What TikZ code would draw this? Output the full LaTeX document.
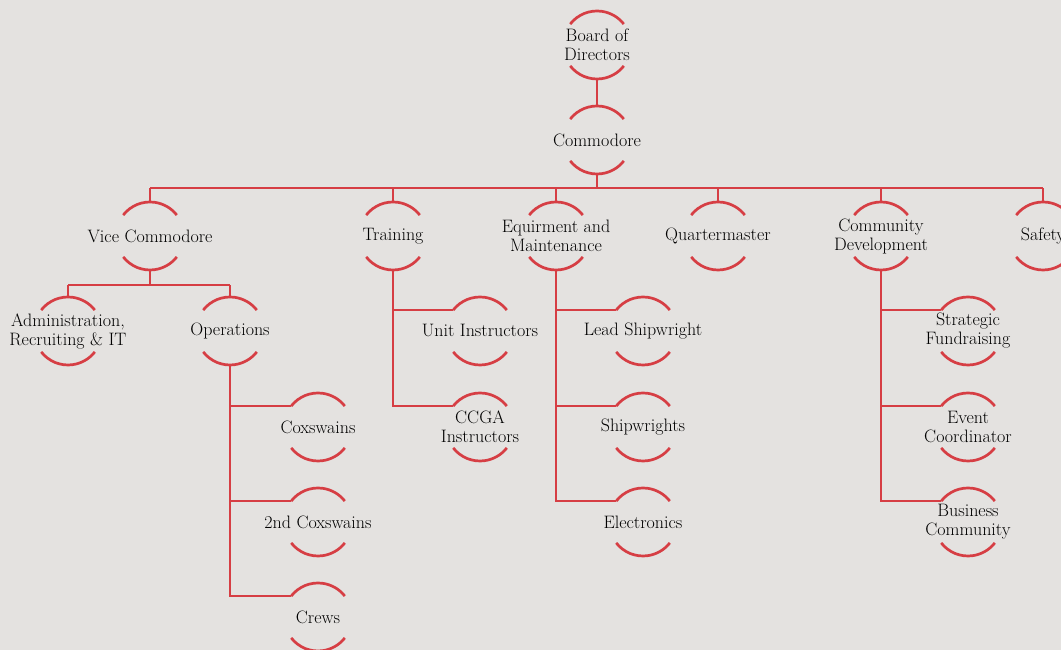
\documentclass[tikz,border=0pt]{standalone}
\usepackage{tikz}

\definecolor{bgpaper}{RGB}{228,226,224}
\definecolor{orgred}{RGB}{214,62,68}

\tikzset{
  orgtext/.style={align=center,text=black,inner sep=0pt,
    font=\fontsize{18}{19}\selectfont},
  orgunit/.style={circle,minimum size=68pt,inner sep=0pt,outer sep=0pt,
    label={[orgtext]center:#1}},
  orgarc/.style={orgred,line width=2.7pt},
  link/.style={orgred,line width=2.6pt}
}

\begin{document}
\begin{tikzpicture}[x=1pt,y=1pt]
  \fill[bgpaper] (0,0) rectangle (1061,650);
  \clip (0,0) rectangle (1061,650);

  % top of the tree
  \node[orgunit={Board of\\Directors}] (bod) at (597,605) {};
  \node[orgunit={Commodore}] (com) at (597,510) {};

  % second level
  \node[orgunit={Vice Commodore}] (vc) at (150,414) {};
  \node[orgunit={Training}] (trn) at (393,414) {};
  \node[orgunit={Equirment and\\Maintenance}] (eqp) at (556,414) {};
  \node[orgunit={Quartermaster}] (qm) at (718,414) {};
  \node[orgunit={Community\\Development}] (cdev) at (881,414) {};
  \node[orgunit={Safety}] (saf) at (1043,414) {};

  % under the vice commodore
  \node[orgunit={Administration,\\Recruiting \& IT}] (adm) at (68,319) {};
  \node[orgunit={Operations}] (ops) at (230,319) {};
  \node[orgunit={Coxswains}] (cox) at (318,223) {};
  \node[orgunit={2nd Coxswains}] (cox2) at (318,128) {};
  \node[orgunit={Crews}] (crw) at (318,33) {};

  % training, maintenance, development
  \node[orgunit={Unit Instructors}] (ui) at (480,319) {};
  \node[orgunit={CCGA\\Instructors}] (ccga) at (480,223) {};
  \node[orgunit={Lead Shipwright}] (lead) at (643,319) {};
  \node[orgunit={Shipwrights}] (shw) at (643,223) {};
  \node[orgunit={Electronics}] (elec) at (643,128) {};
  \node[orgunit={Strategic\\Fundraising}] (strat) at (968,319) {};
  \node[orgunit={Event\\Coordinator}] (evt) at (968,223) {};
  \node[orgunit={Business\\Community}] (bus) at (968,128) {};

  \foreach \n in {bod,com,vc,trn,eqp,qm,cdev,saf,adm,ops,cox,cox2,crw,
                  ui,ccga,lead,shw,elec,strat,evt,bus}{
    \draw[orgarc] (\n.142) arc[start angle=142,end angle=38,radius=34pt];
    \draw[orgarc] (\n.218) arc[start angle=218,end angle=322,radius=34pt];
  }

  \coordinate (bar) at (0,462);
  \coordinate (vcbar) at (0,365);

  \draw[link] (bod.south) -- (com.north);
  \draw[link] (com.south) -- (com.south |- bar);
  \draw[link] (vc.north |- bar) -- (saf.north |- bar);
  \foreach \n in {vc,trn,eqp,qm,cdev,saf}
    \draw[link] (\n.north) -- (\n.north |- bar);

  \draw[link] (vc.south) -- (vc.south |- vcbar);
  \draw[link] (adm.north |- vcbar) -- (ops.north |- vcbar);
  \foreach \n in {adm,ops}
    \draw[link] (\n.north) -- (\n.north |- vcbar);

  \foreach \c in {cox,cox2,crw}
    \draw[link] (ops.south) |- (\c.142);
  \foreach \c in {ui,ccga}
    \draw[link] (trn.south) |- (\c.142);
  \foreach \c in {lead,shw,elec}
    \draw[link] (eqp.south) |- (\c.142);
  \foreach \c in {strat,evt,bus}
    \draw[link] (cdev.south) |- (\c.142);
\end{tikzpicture}
\end{document}
